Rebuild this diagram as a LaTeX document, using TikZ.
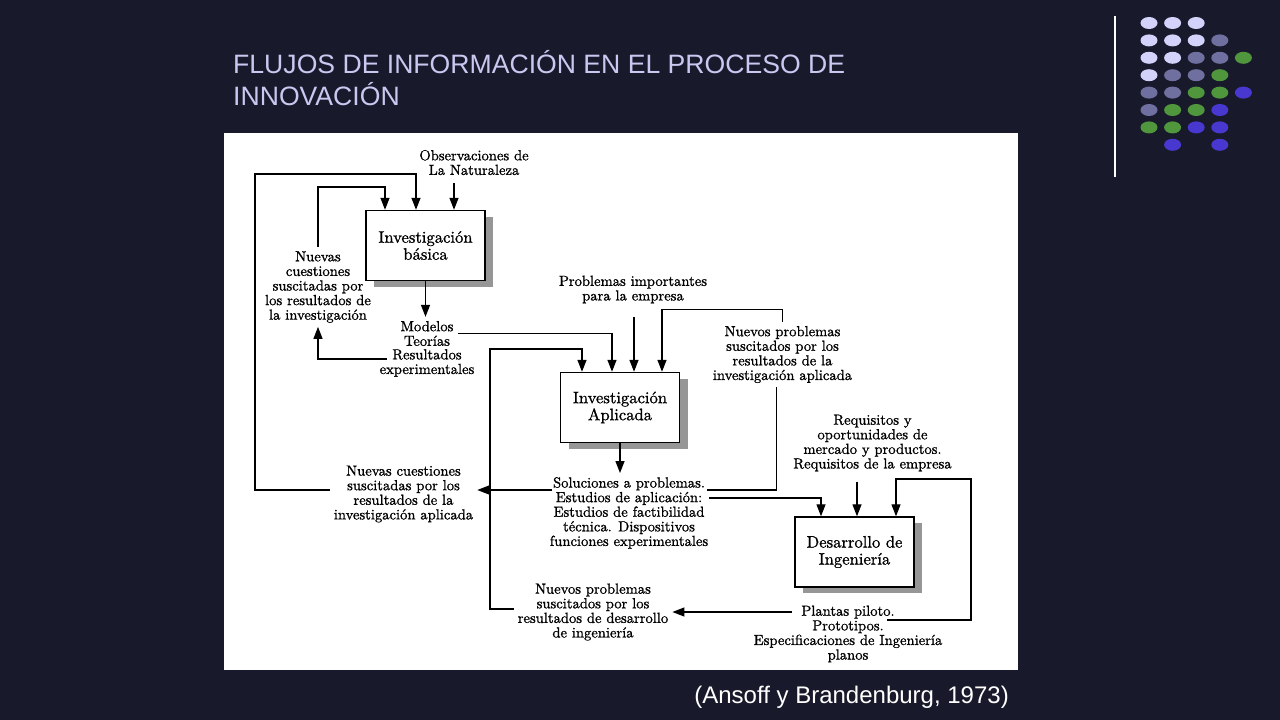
\documentclass[tikz,border=0pt]{standalone}
\usepackage{fontspec}
\usetikzlibrary{arrows.meta, shadows}
\newfontfamily\slidefont{Liberation Sans}
\newfontfamily\diagfont{lmroman10-regular.otf}[FakeBold=1.0]
\definecolor{slidebg}{RGB}{24,26,43}
\definecolor{titlelav}{RGB}{200,200,240}
\definecolor{dotlight}{RGB}{210,210,250}
\definecolor{dotmid}{RGB}{112,112,160}
\definecolor{dotgreen}{RGB}{80,150,60}
\definecolor{dotblue}{RGB}{72,56,208}
\definecolor{shadowgray}{RGB}{150,150,150}

\begin{document}
\begin{tikzpicture}[
    x=1pt, y=-1pt,
    block/.style={rectangle, draw=black, line width=1.4pt, fill=white, minimum width=119pt, minimum height=70pt, align=center, font=\diagfont\fontsize{16.6}{17}\selectfont,
        drop shadow={shadow xshift=8pt, shadow yshift=-6pt, fill=shadowgray, opacity=1}},
    note/.style={align=center, inner sep=4pt, font=\diagfont\fontsize{14.6}{14.6}\selectfont},
    arrow/.style={-{Triangle[length=12pt, width=9pt]}, line width=1.3pt},
    link/.style={line width=1.3pt},
]

% Slide
\useasboundingbox (0,0) rectangle (1280,720);
\fill[slidebg] (0,0) rectangle (1280,720);
\draw[white, line width=1.5pt] (1115,16) -- (1115,177);
\foreach \c/\r/\col in {0/0/dotlight, 1/0/dotlight, 2/0/dotlight,
    0/1/dotlight, 1/1/dotlight, 2/1/dotlight, 3/1/dotmid,
    0/2/dotlight, 1/2/dotlight, 2/2/dotmid, 3/2/dotmid, 4/2/dotgreen,
    0/3/dotlight, 1/3/dotmid, 2/3/dotmid, 3/3/dotgreen,
    0/4/dotmid, 1/4/dotmid, 2/4/dotgreen, 3/4/dotgreen, 4/4/dotblue,
    0/5/dotmid, 1/5/dotgreen, 2/5/dotgreen, 3/5/dotblue,
    0/6/dotgreen, 1/6/dotgreen, 2/6/dotblue, 3/6/dotblue,
    1/7/dotblue, 3/7/dotblue}
    \fill[\col] (1149+23.6*\c, 23+17.4*\r) ellipse [x radius=8.5pt, y radius=6pt];

% Title and source
\node[anchor=north west, inner sep=0pt, align=left, text=titlelav, font=\slidefont\fontsize{26.6}{32}\selectfont] (title) at (233,50)
    {FLUJOS DE INFORMACIÓN EN EL PROCESO DE\\INNOVACIÓN};
\node[anchor=base east, inner sep=0pt, text=white, font=\slidefont\fontsize{24}{26}\selectfont] (source) at (1009,703)
    {(Ansoff y Brandenburg, 1973)};

% Panel
\fill[white] (224,133) rectangle (1018,670);

% Boxes
\node[block] (b1) at (425.5,245.5) {Investigación\\básica};
\node[block] (b2) at (620,407.5) {Investigación\\Aplicada};
\node[block] (b3) at (854.5,552) {Desarrollo de\\Ingeniería};

% Flows
\node[note] (obs) at (474,162.5) {Observaciones de\\La Naturaleza};
\node[note] (nc1) at (318,287) {Nuevas\\cuestiones\\suscitadas por\\los resultados de\\la investigación};
\node[note] (mod1) at (427,333.5) {Modelos\\Teorías};
\node[note] (mod2) at (427,363) {Resultados\\experimentales};
\node[note] (prob) at (633,289.5) {Problemas importantes\\para la empresa};
\node[note] (np1) at (782.5,354.5) {Nuevos problemas\\suscitados por los\\resultados de la\\investigación aplicada};
\node[note] (sol) at (629,513) {Soluciones a problemas.\\Estudios de aplicación:\\Estudios de factibilidad\\técnica. Dispositivos\\funciones experimentales};
\node[note] (nc2) at (403.5,494) {Nuevas cuestiones\\suscitadas por los\\resultados de la\\investigación aplicada};
\node[note] (req) at (872.5,443) {Requisitos y\\oportunidades de\\mercado y productos.\\Requisitos de la empresa};
\node[note] (pla) at (848,634) {Plantas piloto.\\Prototipos.\\Especificaciones de Ingeniería\\planos};
\node[note] (np2) at (593,612) {Nuevos problemas\\suscitados por los\\resultados de desarrollo\\de ingeniería};

% Entry points
\coordinate (b1a) at ([xshift=-40.5pt]b1.north);
\coordinate (b1b) at ([xshift=-9.5pt]b1.north);
\coordinate (b1c) at ([xshift=28.5pt]b1.north);
\coordinate (b2a) at ([xshift=-38pt]b2.north);
\coordinate (b2b) at ([xshift=-8pt]b2.north);
\coordinate (b2c) at ([xshift=14pt]b2.north);
\coordinate (b2d) at ([xshift=42pt]b2.north);
\coordinate (b3a) at ([xshift=-33.5pt]b3.north);
\coordinate (b3b) at ([xshift=2.5pt]b3.north);
\coordinate (b3c) at ([xshift=41.5pt]b3.north);

% Corners and line ends
\coordinate (loopA) at (255,174);
\coordinate (loopB) at (385,187);
\coordinate (loopD) at (490,349);
\coordinate (loopE) at (971,479);
\coordinate (resA) at (387,359);
\coordinate (solA) at (707,490);
\coordinate (solB) at (709,498);
\coordinate (solC) at (552,490);
\coordinate (plaA) at (887,620);
\coordinate (plaB) at (792,612);

% Arrows
\draw[arrow, shorten <=4pt] (obs.south -| b1c) -- (b1c);
\draw[arrow] ([yshift=4pt]nc2.west) -| (loopA) -| (b1b);
\draw[arrow] (nc1.north) |- (loopB) -- (b1a);
\draw[arrow] (b1.south) -- (b1.south |- mod1.north);
\draw[arrow] (resA) -| (nc1.south);
\draw[arrow] (mod1.east) -| (b2b);
\draw[arrow] ([yshift=3pt]np2.west) -| (loopD) -| (b2a);
\draw[arrow, shorten <=10pt] (b2c |- prob.south) -- (b2c);
\draw[arrow] (np1.north) -- ++(0,-12) -| (b2d);
\draw[link] (solA) -| ([xshift=-6pt]np1.south);
\draw[arrow] (b2.south) -- (b2.south |- sol.north);
\draw[arrow] (solC) -- ([yshift=4pt]nc2.east);
\draw[arrow] (solB) -| (b3a);
\draw[arrow, shorten <=6pt] (b3b |- req.south) -- (b3b);
\draw[arrow] (plaA) -| (loopE) -| (b3c);
\draw[arrow] (plaB) -- (np2.east |- plaB);

\end{tikzpicture}
\end{document}
